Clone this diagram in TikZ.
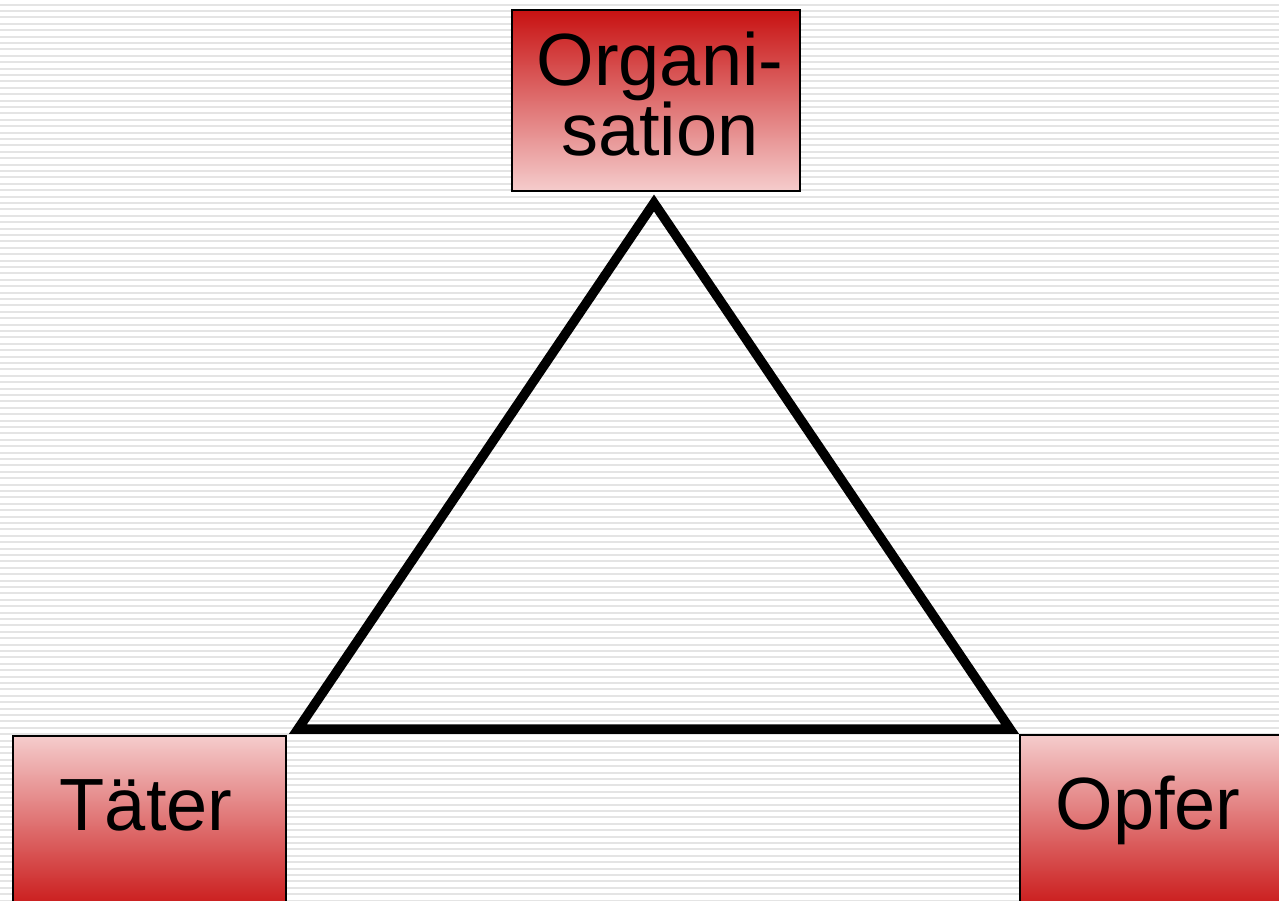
\documentclass[tikz,border=0pt]{standalone}
\usepackage{fontspec}
\setmainfont{Liberation Sans}
\definecolor{boxred}{RGB}{200,18,18}
\definecolor{boxpink}{RGB}{245,204,204}
\definecolor{stripe}{RGB}{228,228,228}
\begin{document}
\begin{tikzpicture}[x=1pt,y=-1pt,
  boxstyle/.style={draw=black, line width=1.8pt, inner sep=0pt},
  redtop/.style={boxstyle, top color=boxred, bottom color=boxpink},
  redbottom/.style={boxstyle, top color=boxpink, bottom color=boxred},
  lbl/.style={font=\fontsize{74}{58}\selectfont, inner sep=0pt, align=center, text=black},
  edge/.style={line width=9.5pt, draw=black, line join=miter}]
\useasboundingbox (0,0) rectangle (1279,900);
\fill[white] (0,0) rectangle (1279,900);
\foreach \i in {0,...,140} {
  \fill[stripe] (0,{\i*6.4+3.5}) rectangle (1279,{\i*6.4+5.5});
}
% boxes
\path[redtop] (512,10) rectangle (800,191);
\path[redbottom] (13,736) rectangle (286,915);
\path[redbottom] (1020,735) rectangle (1295,915);
% labels
\node[lbl, anchor=base] (org) at (660,155) {Organi-\\sation};
\node[lbl, anchor=base] (tater) at (146,830) {Täter};
\node[lbl, anchor=base] (opfer) at (1148,829) {Opfer};
% triangle
\coordinate (apex) at (654,203);
\coordinate (bl) at (298,729);
\coordinate (br) at (1010,729);
\draw[edge] (apex) -- (bl) -- (br) -- cycle;
\end{tikzpicture}
\end{document}
